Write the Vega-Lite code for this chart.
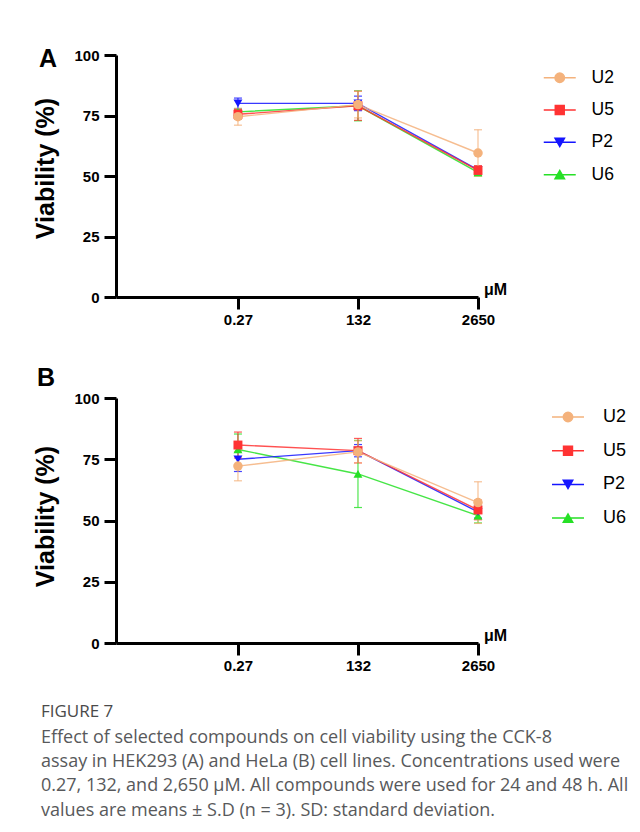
{
  "$schema": "https://vega.github.io/schema/vega-lite/v6.json",
  "background": "white",
  "padding": {"left": 33, "top": 47, "right": 0, "bottom": 0},
  "datasets": {
    "viab": [
      {"panel": "A", "conc": "0.27", "series": "U6", "mean": 76.5, "sd": 1.2},
      {"panel": "A", "conc": "132", "series": "U6", "mean": 79, "sd": 6.2},
      {"panel": "A", "conc": "2650", "series": "U6", "mean": 51.5, "sd": 1.5},
      {"panel": "A", "conc": "0.27", "series": "P2", "mean": 80, "sd": 2.2},
      {"panel": "A", "conc": "132", "series": "P2", "mean": 80, "sd": 3},
      {"panel": "A", "conc": "2650", "series": "P2", "mean": 52.5, "sd": 1.5},
      {"panel": "A", "conc": "0.27", "series": "U5", "mean": 75.5, "sd": 2},
      {"panel": "A", "conc": "132", "series": "U5", "mean": 79, "sd": 6},
      {"panel": "A", "conc": "2650", "series": "U5", "mean": 52.3, "sd": 2},
      {"panel": "A", "conc": "0.27", "series": "U2", "mean": 74.5, "sd": 3.5},
      {"panel": "A", "conc": "132", "series": "U2", "mean": 79.5, "sd": 5.5},
      {"panel": "A", "conc": "2650", "series": "U2", "mean": 59.5, "sd": 9.6},
      {"panel": "B", "conc": "0.27", "series": "U6", "mean": 79, "sd": 6.3},
      {"panel": "B", "conc": "132", "series": "U6", "mean": 69, "sd": 13.7},
      {"panel": "B", "conc": "2650", "series": "U6", "mean": 52, "sd": 3},
      {"panel": "B", "conc": "0.27", "series": "P2", "mean": 75, "sd": 5},
      {"panel": "B", "conc": "132", "series": "P2", "mean": 78.5, "sd": 2.5},
      {"panel": "B", "conc": "2650", "series": "P2", "mean": 53.5, "sd": 2.5},
      {"panel": "B", "conc": "0.27", "series": "U5", "mean": 80.8, "sd": 5.3},
      {"panel": "B", "conc": "132", "series": "U5", "mean": 78.5, "sd": 5},
      {"panel": "B", "conc": "2650", "series": "U5", "mean": 54.3, "sd": 4},
      {"panel": "B", "conc": "0.27", "series": "U2", "mean": 72.2, "sd": 6},
      {"panel": "B", "conc": "132", "series": "U2", "mean": 78, "sd": 4.5},
      {"panel": "B", "conc": "2650", "series": "U2", "mean": 57.3, "sd": 8.5}
    ]
  },
  "data": {"name": "viab"},
  "title": {
    "text": "FIGURE 7",
    "subtitle": [
      "Effect of selected compounds on cell viability using the CCK-8",
      "assay in HEK293 (A) and HeLa (B) cell lines. Concentrations used were",
      "0.27, 132, and 2,650 μM. All compounds were used for 24 and 48 h. All",
      "values are means ± S.D (n = 3). SD: standard deviation."
    ],
    "orient": "bottom",
    "anchor": "start",
    "frame": "bounds",
    "offset": 31,
    "dx": 7,
    "font": "Open Sans",
    "fontSize": 17,
    "fontWeight": 500,
    "color": "#4a4a4a",
    "subtitleFont": "Open Sans",
    "subtitleFontSize": 18,
    "subtitleColor": "#58595b",
    "subtitleLineHeight": 24.2,
    "subtitlePadding": 8
  },
  "config": {
    "view": {"stroke": null},
    "font": "Liberation Sans",
    "axis": {
      "grid": false,
      "domainColor": "black",
      "domainWidth": 3,
      "tickColor": "black",
      "tickWidth": 3,
      "tickSize": 12,
      "labelFont": "Liberation Sans",
      "labelFontWeight": "bold",
      "labelFontSize": 15,
      "labelColor": "black",
      "titleFont": "Liberation Sans",
      "titleFontWeight": "bold",
      "titleColor": "black"
    },
    "concat": {"spacing": 39}
  },
  "resolve": {"scale": {"color": "independent"}, "legend": {"color": "independent"}},
  "vconcat": [
    {
      "width": 362,
      "height": 242,
      "title": {"text": "A", "anchor": "start", "frame": "group", "dx": -77, "dy": 24, "fontSize": 25, "fontWeight": "bold", "font": "Liberation Sans", "color": "black", "offset": 0},
      "transform": [{"filter": "datum.panel === 'A'"}],
      "encoding": {
        "x": {"field": "conc", "type": "ordinal", "sort": ["0.27", "132", "2650"],
              "scale": {"type": "point", "padding": 0.508, "align": 1},
              "axis": {"title": "μM", "labelAngle": 0, "labelPadding": 3, "titleFontSize": 16, "titleX": 379, "titleY": 0, "titleAlign": "center", "titleBaseline": "bottom"}},
        "y": {"field": "mean", "type": "quantitative",
              "scale": {"domain": [0, 100]},
              "axis": {"title": "Viability (%)", "values": [0, 25, 50, 75, 100], "labelPadding": 5, "titleFontSize": 25, "titlePadding": 15, "titleY": 113}},
        "color": {"field": "series", "type": "nominal",
                  "scale": {"domain": ["U2", "U5", "P2", "U6"], "range": ["#f4b27c", "#ff3333", "#1515ff", "#26e026"]},
                  "legend": {
                    "orient": "none", "legendX": 435, "legendY": 14, "title": null,
                    "labelFont": "Liberation Sans", "labelFontSize": 17.5, "labelColor": "black",
                    "labelOffset": 23, "symbolSize": 110, "rowPadding": 13.3, "symbolOpacity": 1,
                    "encode": {"symbols": {"update": {
                      "shape": {"signal": "datum.value === 'U2' ? 'M-3.05,0H3.05M-0.9,0A0.9,0.9 0 1,0 0.9,0A0.9,0.9 0 1,0 -0.9,0Z' : datum.value === 'U5' ? 'M-3.05,0H3.05M-0.85,-0.85H0.85V0.85H-0.85Z' : datum.value === 'P2' ? 'M-3.05,0H3.05M-0.9,-0.8H0.9L0,0.8Z' : 'M-3.05,0H3.05M-0.9,0.8H0.9L0,-0.8Z'"},
                      "stroke": {"signal": "datum.value === 'U2' ? '#f4b27c' : datum.value === 'U5' ? '#ff3333' : datum.value === 'P2' ? '#1515ff' : '#26e026'"},
                      "fill": {"signal": "datum.value === 'U2' ? '#f4b27c' : datum.value === 'U5' ? '#ff3333' : datum.value === 'P2' ? '#1515ff' : '#26e026'"},
                      "strokeWidth": {"value": 1.5},
                      "opacity": {"value": 1}
                    }}}
                  }}
      },
      "layer": [
        {"mark": {"type": "line", "strokeWidth": 1.4, "opacity": 0.85}, "encoding": {"detail": {"field": "series"}}},
        {"mark": {"type": "errorbar", "ticks": {"size": 8}, "thickness": 1.2, "opacity": 0.8},
         "encoding": {"yError": {"field": "sd"}}},
        {"transform": [{"filter": "datum.series === 'U6'"}], "mark": {"type": "point", "shape": "triangle-up", "filled": true, "size": 80, "opacity": 1}},
        {"transform": [{"filter": "datum.series === 'P2'"}], "mark": {"type": "point", "shape": "triangle-down", "filled": true, "size": 80, "opacity": 1}},
        {"transform": [{"filter": "datum.series === 'U5'"}], "mark": {"type": "point", "shape": "square", "filled": true, "size": 80, "opacity": 1}},
        {"transform": [{"filter": "datum.series === 'U2'"}], "mark": {"type": "point", "shape": "circle", "filled": true, "size": 90, "opacity": 1}}
      ]
    },
    {
      "width": 362,
      "height": 245,
      "title": {"text": "B", "anchor": "start", "frame": "group", "dx": -79, "dy": 0, "fontSize": 25, "fontWeight": "bold", "font": "Liberation Sans", "color": "black", "offset": 0},
      "transform": [{"filter": "datum.panel === 'B'"}],
      "encoding": {
        "x": {"field": "conc", "type": "ordinal", "sort": ["0.27", "132", "2650"],
              "scale": {"type": "point", "padding": 0.508, "align": 1},
              "axis": {"title": "μM", "labelAngle": 0, "labelPadding": 3, "titleFontSize": 16, "titleX": 379, "titleY": 0, "titleAlign": "center", "titleBaseline": "bottom"}},
        "y": {"field": "mean", "type": "quantitative",
              "scale": {"domain": [0, 100]},
              "axis": {"title": "Viability (%)", "values": [0, 25, 50, 75, 100], "labelPadding": 5, "titleFontSize": 25, "titlePadding": 15, "titleY": 118}},
        "color": {"field": "series", "type": "nominal",
                  "scale": {"domain": ["U2", "U5", "P2", "U6"], "range": ["#f4b27c", "#ff3333", "#1515ff", "#26e026"]},
                  "legend": {
                    "orient": "none", "legendX": 443, "legendY": 10, "title": null,
                    "labelFont": "Liberation Sans", "labelFontSize": 18, "labelColor": "black",
                    "labelOffset": 26, "symbolSize": 110, "rowPadding": 15.7, "symbolOpacity": 1,
                    "encode": {"symbols": {"update": {
                      "shape": {"signal": "datum.value === 'U2' ? 'M-3.05,0H3.05M-0.9,0A0.9,0.9 0 1,0 0.9,0A0.9,0.9 0 1,0 -0.9,0Z' : datum.value === 'U5' ? 'M-3.05,0H3.05M-0.85,-0.85H0.85V0.85H-0.85Z' : datum.value === 'P2' ? 'M-3.05,0H3.05M-0.9,-0.8H0.9L0,0.8Z' : 'M-3.05,0H3.05M-0.9,0.8H0.9L0,-0.8Z'"},
                      "stroke": {"signal": "datum.value === 'U2' ? '#f4b27c' : datum.value === 'U5' ? '#ff3333' : datum.value === 'P2' ? '#1515ff' : '#26e026'"},
                      "fill": {"signal": "datum.value === 'U2' ? '#f4b27c' : datum.value === 'U5' ? '#ff3333' : datum.value === 'P2' ? '#1515ff' : '#26e026'"},
                      "strokeWidth": {"value": 1.5},
                      "opacity": {"value": 1}
                    }}}
                  }}
      },
      "layer": [
        {"mark": {"type": "line", "strokeWidth": 1.4, "opacity": 0.85}, "encoding": {"detail": {"field": "series"}}},
        {"mark": {"type": "errorbar", "ticks": {"size": 8}, "thickness": 1.2, "opacity": 0.8},
         "encoding": {"yError": {"field": "sd"}}},
        {"transform": [{"filter": "datum.series === 'U6'"}], "mark": {"type": "point", "shape": "triangle-up", "filled": true, "size": 80, "opacity": 1}},
        {"transform": [{"filter": "datum.series === 'P2'"}], "mark": {"type": "point", "shape": "triangle-down", "filled": true, "size": 80, "opacity": 1}},
        {"transform": [{"filter": "datum.series === 'U5'"}], "mark": {"type": "point", "shape": "square", "filled": true, "size": 80, "opacity": 1}},
        {"transform": [{"filter": "datum.series === 'U2'"}], "mark": {"type": "point", "shape": "circle", "filled": true, "size": 90, "opacity": 1}}
      ]
    }
  ]
}
